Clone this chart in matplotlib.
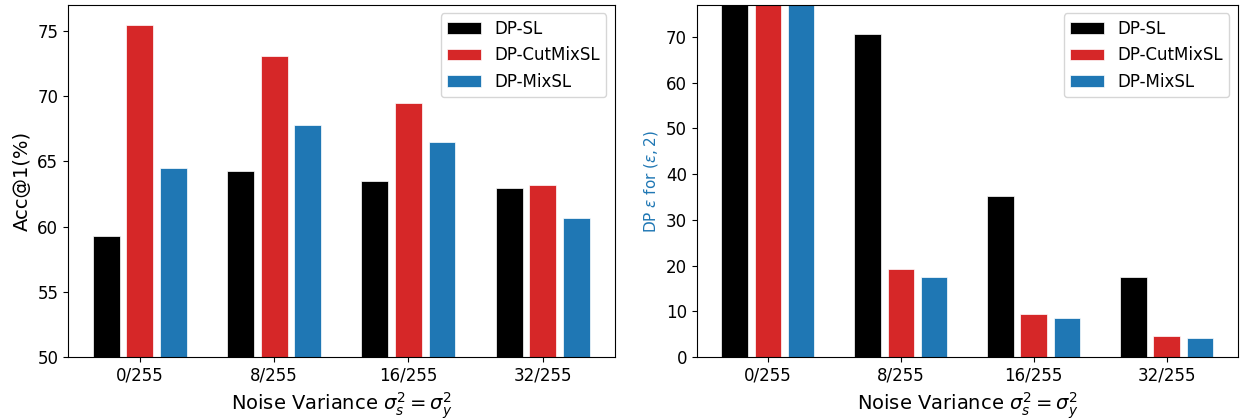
import numpy as np
import matplotlib
matplotlib.use('Agg')
import matplotlib.pyplot as plt

noise_labels = ['0/255', '8/255', '16/255', '32/255']
methods = ['DP-SL', 'DP-CutMixSL', 'DP-MixSL']
colors = ['black', '#d62728', '#1f77b4']

# accuracy (%)
acc_dpsl = [59.3, 64.3, 63.5, 62.95]
acc_cutmix = [75.5, 73.1, 69.5, 63.2]
acc_mix = [64.5, 67.8, 66.5, 60.7]

# DP epsilon (0/255 bars run off the top of the axis)
eps_dpsl = [100.0, 70.7, 35.2, 17.5]
eps_cutmix = [100.0, 19.3, 9.5, 4.7]
eps_mix = [100.0, 17.5, 8.6, 4.2]

x = np.arange(len(noise_labels))
width = 0.2
offsets = [-0.25, 0.0, 0.25]

fig = plt.figure(figsize=(12.42, 4.2), dpi=100)
ax1 = fig.add_axes([0.0548, 0.15, 0.44, 0.838])
ax2 = fig.add_axes([0.561, 0.15, 0.4356, 0.838])

for i, vals in enumerate([acc_dpsl, acc_cutmix, acc_mix]):
    ax1.bar(x + offsets[i], vals, width, color=colors[i], label=methods[i],
            edgecolor='white', linewidth=0.5)
for i, vals in enumerate([eps_dpsl, eps_cutmix, eps_mix]):
    ax2.bar(x + offsets[i], vals, width, color=colors[i], label=methods[i],
            edgecolor='white', linewidth=0.5)

ax1.set_ylim(50, 77)
ax1.set_yticks([50, 55, 60, 65, 70, 75])
ax2.set_ylim(0, 77)

xlabel = r'Noise Variance $\sigma_s^2 = \sigma_y^2$'
for ax in (ax1, ax2):
    ax.set_xticks(x)
    ax.set_xticklabels(noise_labels)
    ax.set_xlabel(xlabel, fontsize=14)
    ax.tick_params(labelsize=12)
    ax.legend(loc='upper right', fontsize=12)

ax1.set_ylabel('Acc@1(%)', fontsize=14)
ax2.set_ylabel(r'DP $\epsilon$ for $(\epsilon, 2)$', fontsize=11, color='#1f77b4')

plt.savefig('out.png', dpi=100)
